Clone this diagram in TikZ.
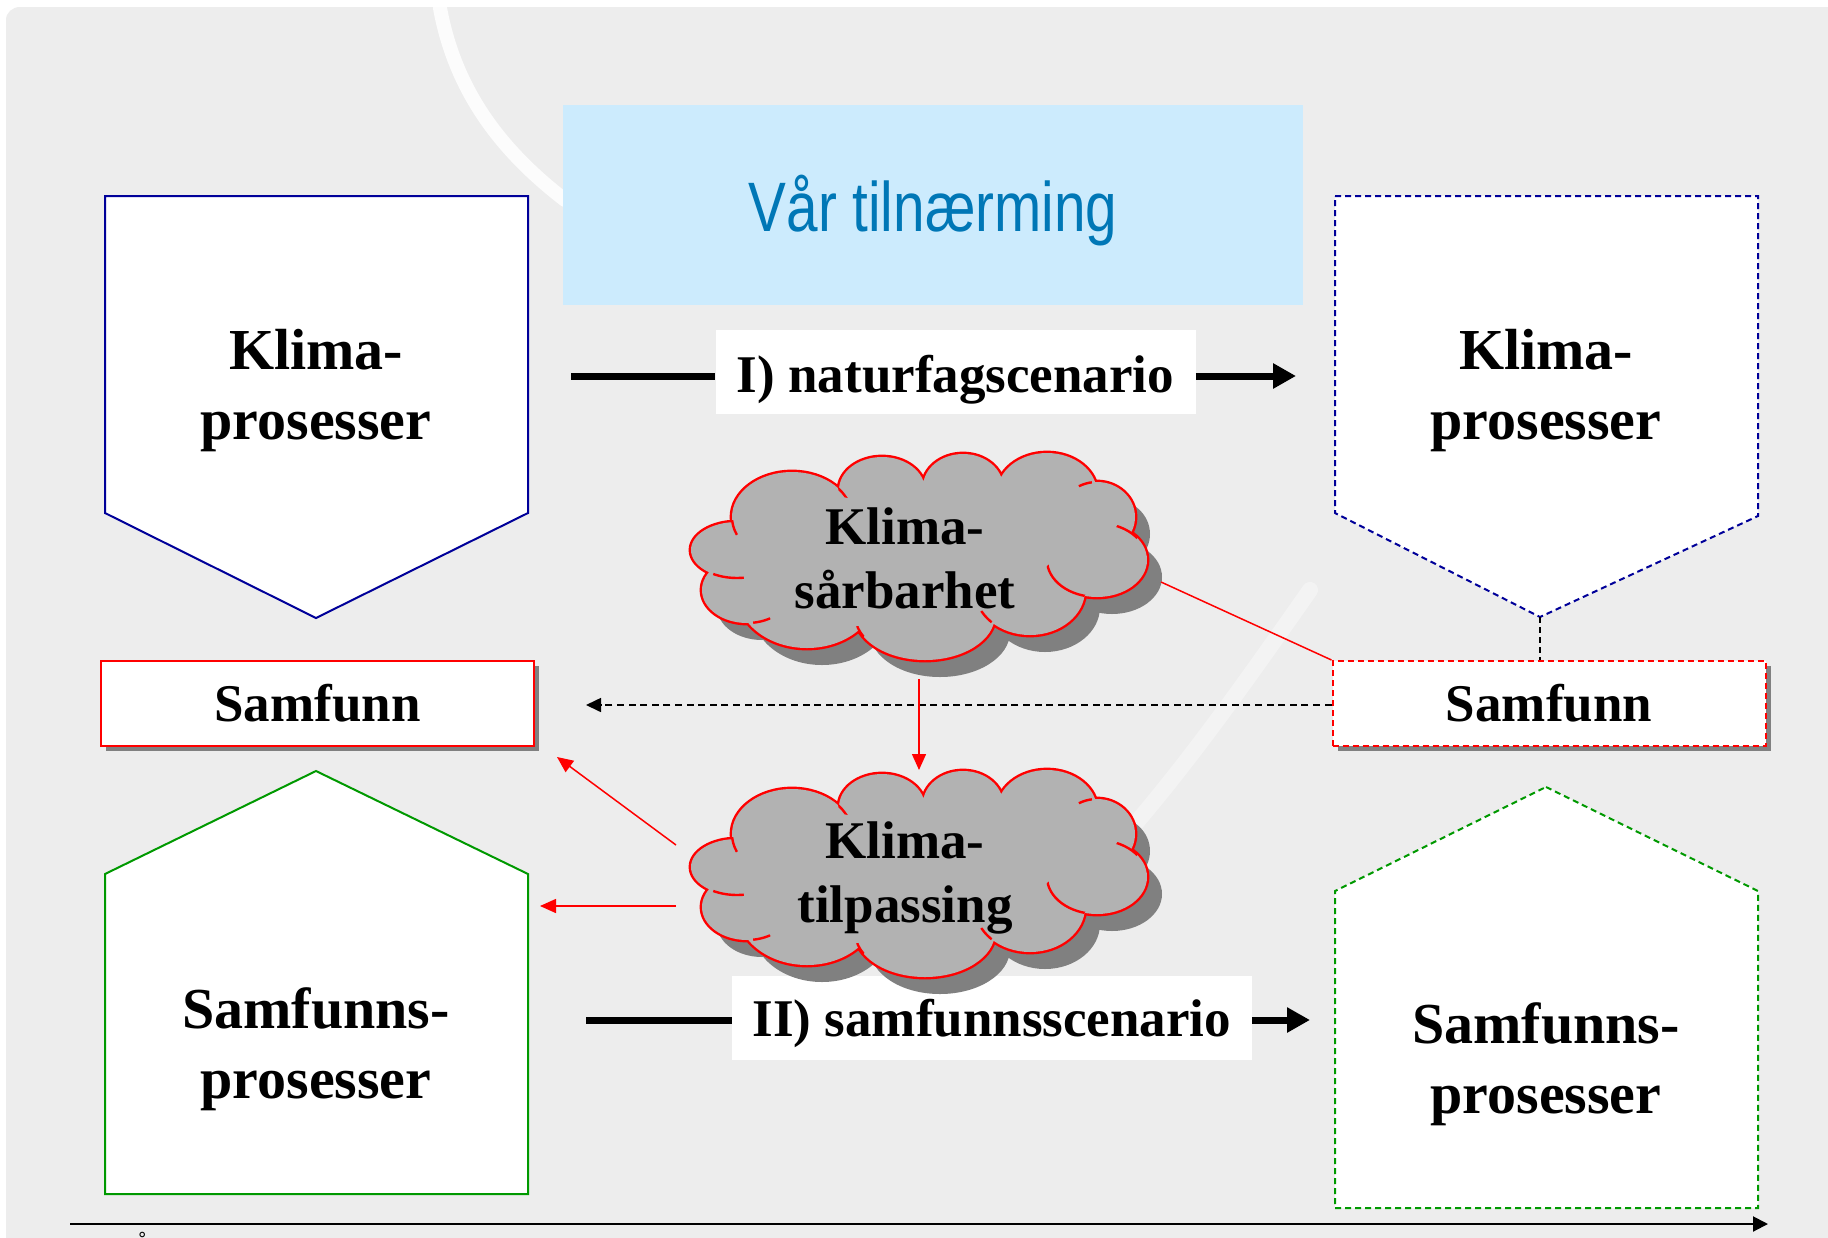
\documentclass[tikz,border=0pt]{standalone}
\usepackage{fontspec}
\setmainfont{Liberation Serif}
\newfontfamily\titlefont{Liberation Sans}
\usepackage{graphicx}
\usetikzlibrary{arrows.meta,shadows}
\definecolor{bg}{HTML}{EDEDED}
\definecolor{navyb}{HTML}{000099}
\definecolor{grn}{HTML}{009900}
\definecolor{ttl}{HTML}{0077B6}
\definecolor{ttlbg}{HTML}{CCEBFD}
\definecolor{cloudfill}{HTML}{B2B2B2}
\definecolor{cloudshadow}{HTML}{808080}
\newcommand\cloudlist{112/77/60/45, 202/50/43/33, 283/47/40/33, 367/53/50/40, 417/77/38/35, 417/120/50/37, 350/150/55/45, 245/175/70/45, 127/153/70/55, 67/150/45/33, 57/110/46/28, 235/115/180/68}
\newcommand\innerlist{112/77/60/45/53/88/8, 57/110/46/28/48/140/16, 67/150/45/33/82/182/9, 245/175/70/45/178/193/7, 350/150/55/45/305/178/8, 417/120/50/37/385/142/24, 417/120/50/37/447/92/12, 112/77/60/45/168/48/10, 417/77/38/35/405/43/7}
\newcommand\drawcloud[3]{%
  \begin{scope}[shift={(#1,#2)}]
    \fill[cloudshadow] \foreach \cx/\cy/\rx/\ry in \cloudlist {(\cx+15,\cy+17) ellipse [x radius=\rx, y radius=\ry]};
    \draw[red, line width=2.4pt] \foreach \cx/\cy/\rx/\ry in \cloudlist {(\cx,\cy) ellipse [x radius=\rx, y radius=\ry]};
    \fill[cloudfill] \foreach \cx/\cy/\rx/\ry in \cloudlist {(\cx,\cy) ellipse [x radius=\rx, y radius=\ry]};
    \foreach \cx/\cy/\rx/\ry/\kx/\ky/\kr in \innerlist {
      \begin{scope}
        \clip (\kx,\ky) circle [radius=\kr];
        \draw[red, line width=1.2pt] (\cx,\cy) ellipse [x radius=\rx, y radius=\ry];
      \end{scope}
    }
    \coordinate (#3) at (228,115);
  \end{scope}}
\begin{document}
\begin{tikzpicture}[x=0.5pt,y=-0.5pt,
  bigtxt/.style={font=\bfseries\fontsize{29}{35}\selectfont, align=center},
  lbltxt/.style={font=\bfseries\fontsize{26.5}{32}\selectfont, align=center},
  dsh/.style={dash pattern=on 3pt off 2pt},
  boxline/.style={line width=1pt, fill=white},
  samfbox/.style={lbltxt, draw=red, line width=1pt, fill=white, minimum width=216.5pt, minimum height=42.5pt, inner sep=0pt,
     drop shadow={shadow xshift=2.5pt, shadow yshift=-2.5pt, fill=cloudshadow, opacity=1}},
  scenlabel/.style={lbltxt, fill=white, inner sep=0pt, minimum height=42pt},
  thickarrow/.style={line width=3.5pt, -{Triangle[length=11.5pt,width=12pt]}},
  thinred/.style={red, line width=0.75pt, -{Triangle[length=8pt,width=7pt]}},
  cloudtxt/.style={font=\bfseries\fontsize{26.5}{32}\selectfont, align=center}]
\useasboundingbox (0,0) rectangle (1828,1238);
% background
\fill[white] (0,0) rectangle (1828,1238);
\fill[bg] (6,20) to[out=90,in=180] (20,7) -- (1828,7) -- (1828,1238) -- (6,1238) -- cycle;
\draw[white, line width=7pt, opacity=0.85, line cap=round] (440,8) .. controls (455,90) and (500,150) .. (565,200);
\draw[white, line width=8pt, opacity=0.35, line cap=round] (1310,590) .. controls (1240,690) and (1190,760) .. (1130,830);

% title
\node[fill=ttlbg, minimum width=370pt, minimum height=100pt, inner sep=0pt] (titlebox) at (933,205) {};
\node[anchor=base, text=ttl, font=\titlefont\fontsize{35}{40}\selectfont, inner sep=0pt] (title) at (933,231) {\scalebox{0.81}[1]{Vår tilnærming}};

% left top pentagon (blue)
\draw[navyb, boxline] (105,196) -- (528,196) -- (528,513) -- (316,618) -- (105,513) -- cycle;
\coordinate (kp1tip) at (316,618);
\node[bigtxt] (kp1) at (316,391) {Klima-\\prosesser};

% right top pentagon (blue dashed)
\draw[navyb, boxline, dsh] (1335,196) -- (1758,196) -- (1758,516) -- (1540,617) -- (1335,513) -- cycle;
\coordinate (kp2tip) at (1540,617);
\node[bigtxt] (kp2) at (1546,391) {Klima-\\prosesser};

% left bottom pentagon (green)
\draw[grn, boxline] (316,771) -- (528,874) -- (528,1194) -- (105,1194) -- (105,874) -- cycle;
\node[bigtxt] (sp1) at (316,1049) {Samfunns-\\prosesser};

% right bottom pentagon (green dashed)
\draw[grn, boxline, dsh] (1546,787) -- (1758,891) -- (1758,1208) -- (1335,1208) -- (1335,891) -- cycle;
\node[bigtxt] (sp2) at (1546,1064) {Samfunns-\\prosesser};

% Samfunn boxes
\node[samfbox] (sam1) at (317.5,703.5) {Samfunn};
\node[samfbox, dsh] (sam2) at (1549,703.5) {Samfunn};

% vertical dashed from right pentagon to Samfunn
\draw[black, line width=0.8pt, dash pattern=on 3pt off 2pt] (kp2tip) -- (kp2tip |- sam2.north);

% dashed arrow Samfunn right -> left
\coordinate (dashend) at (586,705);
\draw[black, line width=0.8pt, dash pattern=on 3.5pt off 2.3pt, -{Triangle[length=7.5pt,width=7pt]}] (sam2.west |- dashend) -- (dashend);

% scenario I
\node[scenlabel, minimum width=240pt, text height=25pt, text depth=4.3pt] (scenI) at (955.5,372) {I) naturfagscenario};
\coordinate (sIstart) at (571,376);
\coordinate (sIend) at (1296,376);
\draw[line width=3.5pt] (sIstart) -- (sIstart -| scenI.west);
\draw[thickarrow] (sIend -| scenI.east) -- (sIend);

% scenario II
\node[scenlabel, minimum width=260pt, text height=23pt, text depth=4.3pt] (scenII) at (992,1018) {II) samfunnsscenario};
\coordinate (sIIstart) at (586,1020);
\coordinate (sIIend) at (1310,1020);
\draw[line width=3.5pt] (sIIstart) -- (sIIstart -| scenII.west);
\draw[thickarrow] (sIIend -| scenII.east) -- (sIIend);

% clouds
\drawcloud{680}{440}{c1}
\node[cloudtxt] (cloud1) at (905,558) {Klima-\\sårbarhet};
\drawcloud{680}{757}{c2}
\node[cloudtxt] (cloud2) at (905,878) {Klima-\\tilpassing};

% red connectors
\coordinate (c1bot) at (919,679);
\coordinate (c2top) at (919,770);
\draw[thinred] (c1bot) -- (c2top);
\coordinate (c1right) at (1161,582);
\draw[red, line width=0.75pt] (c1right) -- (sam2.north west);
\coordinate (c2a) at (676,845);
\coordinate (c2b) at (676,906);
\coordinate (s1a) at (557,757);
\coordinate (s1b) at (540,906);
\draw[thinred] (c2a) -- (s1a);
\draw[thinred] (c2b) -- (s1b);

% time axis
\coordinate (axstart) at (70,1224);
\coordinate (axend) at (1768,1224);
\draw[line width=1pt, -{Triangle[length=7.5pt,width=7.5pt]}] (axstart) -- (axend);
\node[anchor=base, font=\fontsize{14}{16}\selectfont, inner sep=0pt] (aar) at (142,1252) {å};
\end{tikzpicture}
\end{document}
